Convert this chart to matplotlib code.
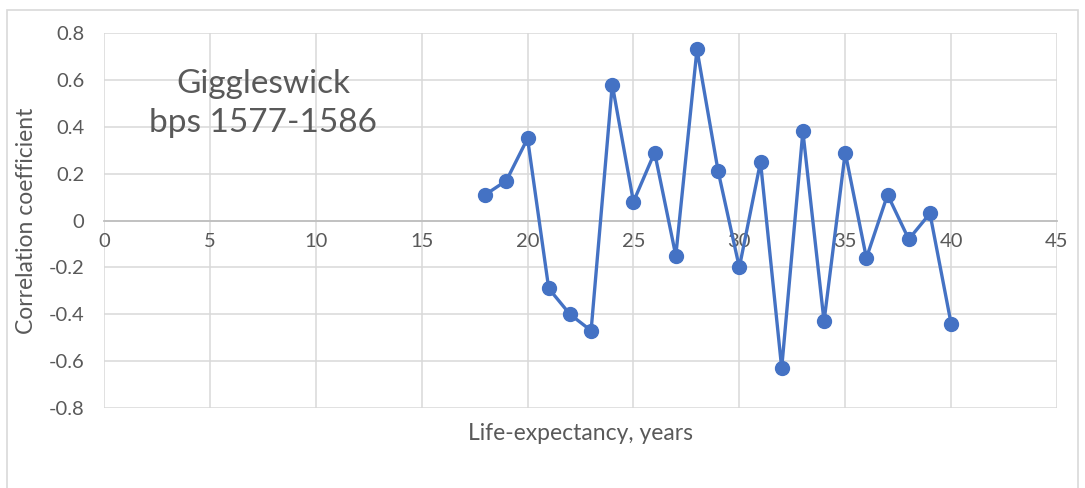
import matplotlib
matplotlib.use('Agg')
import matplotlib.pyplot as plt
from matplotlib.patches import Rectangle

# life-expectancy (years) vs correlation coefficient
life_exp = [18, 19, 20, 21, 22, 23, 24, 25, 26, 27, 28, 29, 30,
            31, 32, 33, 34, 35, 36, 37, 38, 39, 40]
corr = [0.11, 0.17, 0.35, -0.29, -0.40, -0.47, 0.58, 0.08, 0.29, -0.15, 0.73, 0.21, -0.20,
        0.25, -0.63, 0.38, -0.43, 0.29, -0.16, 0.11, -0.08, 0.03, -0.44]
x_ticks = [0, 5, 10, 15, 20, 25, 30, 35, 40, 45]
y_ticks = [-0.8, -0.6, -0.4, -0.2, 0, 0.2, 0.4, 0.6, 0.8]
y_labels = ['-0.8', '-0.6', '-0.4', '-0.2', '0', '0.2', '0.4', '0.6', '0.8']

plt.rcParams.update({'font.family': ['Lato', 'DejaVu Sans']})
TXT = '#595959'
GRID = '#d9d9d9'
BLUE = '#4472C4'

fig = plt.figure(figsize=(10.85, 4.88), dpi=100)
fig.patches.append(Rectangle((7 / 1085, -0.05), 1071 / 1085, 1.05 - 10 / 488,
                             transform=fig.transFigure, fill=False,
                             edgecolor=GRID, linewidth=1.2))
ax = fig.add_axes([104 / 1085, 1 - 408 / 488, 953 / 1085, 375 / 488])

ax.plot(life_exp, corr, '-o', color=BLUE, lw=2.4, markersize=10, zorder=3)

ax.set_xlim(0, 45)
ax.set_ylim(-0.8, 0.8)
ax.set_xticks(x_ticks)
ax.set_yticks(y_ticks)
ax.set_yticklabels(y_labels)
ax.set_axisbelow(True)
ax.grid(True, color=GRID, lw=1.1)
for s in ['left', 'right', 'top']:
    ax.spines[s].set_visible(False)
ax.spines['bottom'].set_position(('data', 0))
ax.spines['bottom'].set_color('#bfbfbf')
ax.spines['bottom'].set_linewidth(1.3)
ax.tick_params(axis='both', length=0, labelsize=14.5, colors=TXT)
ax.tick_params(axis='x', pad=9)
ax.tick_params(axis='y', pad=14)

ax.set_xlabel('Life-expectancy, years', fontsize=16.5, color=TXT, va='center')
ax.xaxis.set_label_coords(0.5, -0.067)
ax.set_ylabel('Correlation coefficient', fontsize=16.5, color=TXT, va='center')
ax.yaxis.set_label_coords(-0.081, 0.5)

ax.text(0.167, 0.812, 'Giggleswick\nbps 1577-1586', transform=ax.transAxes,
        ha='center', va='center', fontsize=24, color=TXT, linespacing=1.35)

fig.savefig('out.png', dpi=100)
